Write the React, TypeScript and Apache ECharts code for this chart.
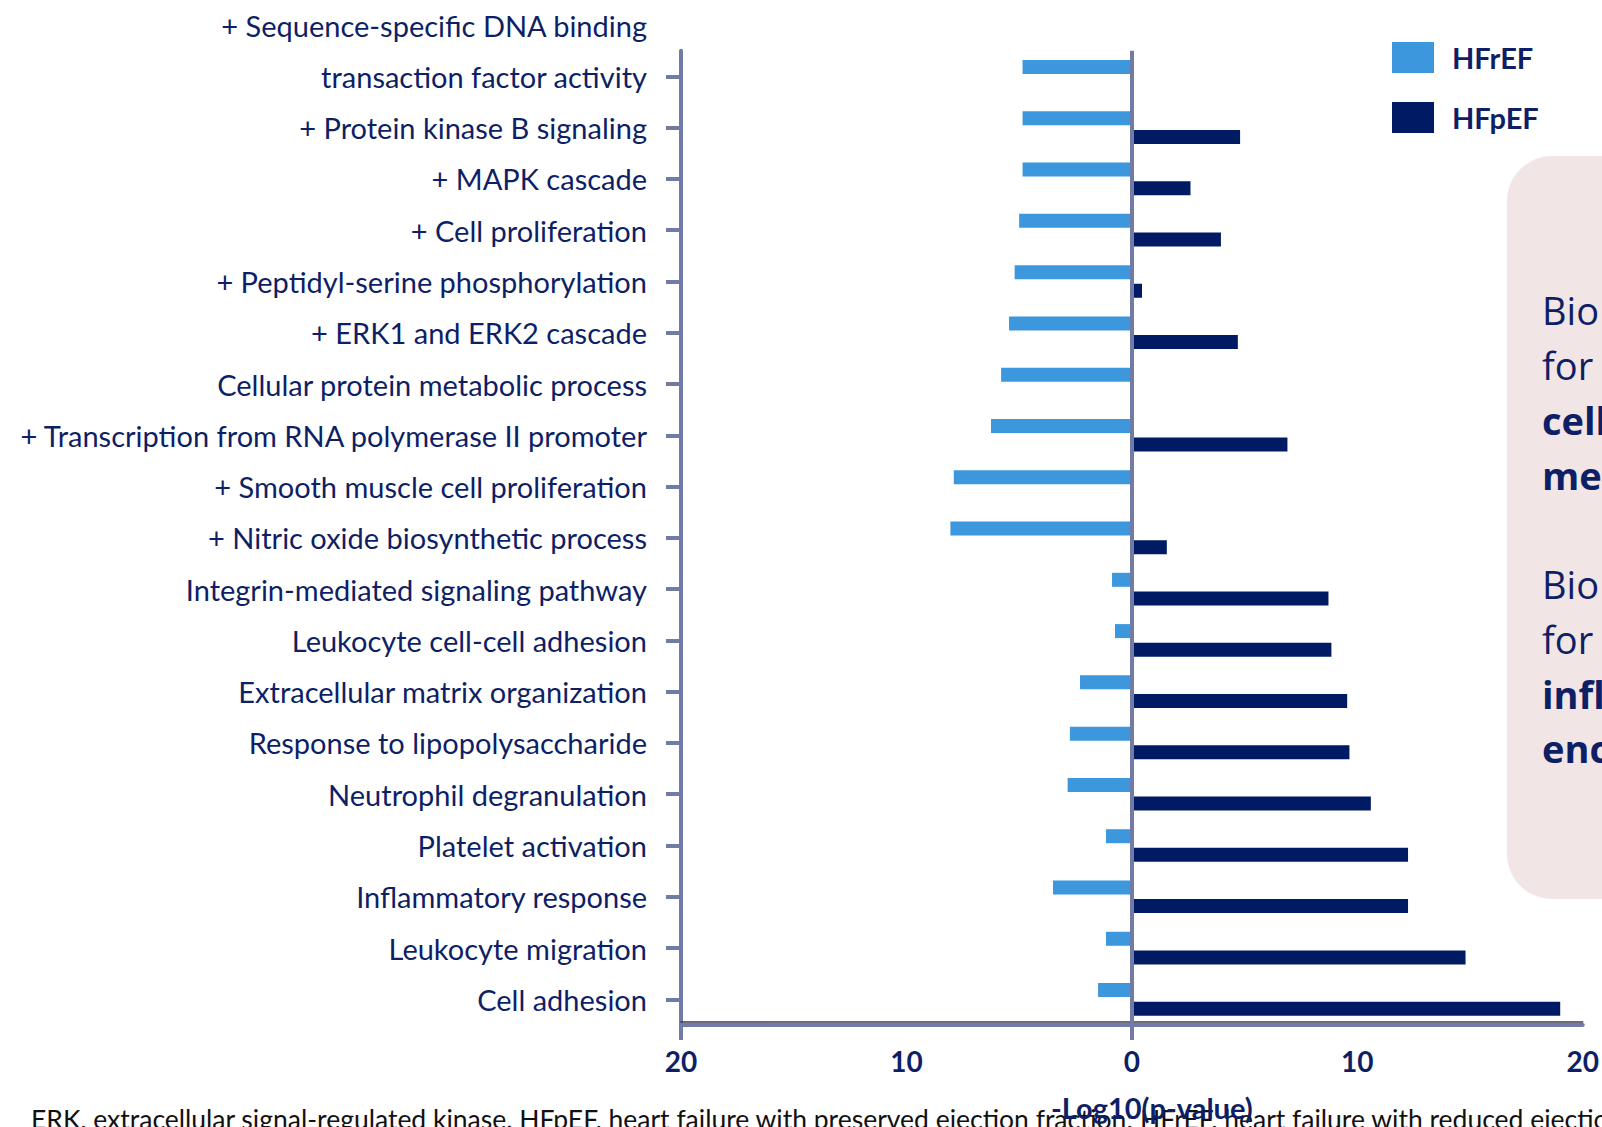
import { useEffect, useRef } from "react";
import * as echarts from "echarts";

// Enriched biological processes, -log10(p-value) per heart-failure phenotype
const categories = [
  "+ Sequence-specific DNA binding\ntransaction factor activity",
  "+ Protein kinase B signaling",
  "+ MAPK cascade",
  "+ Cell proliferation",
  "+ Peptidyl-serine phosphorylation",
  "+ ERK1 and ERK2 cascade",
  "Cellular protein metabolic process",
  "+ Transcription from RNA polymerase II promoter",
  "+ Smooth muscle cell proliferation",
  "+ Nitric oxide biosynthetic process",
  "Integrin-mediated signaling pathway",
  "Leukocyte cell-cell adhesion",
  "Extracellular matrix organization",
  "Response to lipopolysaccharide",
  "Neutrophil degranulation",
  "Platelet activation",
  "Inflammatory response",
  "Leukocyte migration",
  "Cell adhesion",
];

// HFrEF values are plotted to the left of zero
const hfrefLog10P = [4.85, 4.85, 4.85, 5.0, 5.2, 5.45, 5.8, 6.25, 7.9, 8.05, 0.88, 0.75, 2.3, 2.75, 2.85, 1.15, 3.5, 1.15, 1.5];
const hfpefLog10P: (number | null)[] = [null, 4.8, 2.6, 3.95, 0.45, 4.7, null, 6.9, null, 1.55, 8.72, 8.85, 9.55, 9.65, 10.6, 12.25, 12.25, 14.8, 19.0];

const xTickValues = [-20, -10, 0, 10, 20];

const panelLines = [
  { text: "Bio", bold: false },
  { text: "for", bold: false },
  { text: "cell", bold: true },
  { text: "met", bold: true },
  { text: "Bio", bold: false },
  { text: "for", bold: false },
  { text: "infl", bold: true },
  { text: "enc", bold: true },
];
const panelLineY = [310, 365, 420, 475, 584, 639, 694, 748];

const footnote =
  "ERK, extracellular signal-regulated kinase. HFpEF, heart failure with preserved ejection fraction; HFrEF, heart failure with reduced ejection fraction";

const NAVY = "#0E1F66";
const BAR_LIGHT = "#3C97DD";
const BAR_DARK = "#001B63";
const SLATE = "#727BA6";
const PANEL = "#F1E6E5";

export default function App() {
  const ref = useRef<HTMLDivElement>(null);

  useEffect(() => {
    const chart = echarts.init(ref.current!, null, { renderer: "svg" });

    const panelTexts = panelLines.map((l, i) => ({
      type: "text",
      x: 1542,
      y: panelLineY[i],
      z: 5,
      style: {
        text: l.text,
        fill: NAVY,
        font: `${l.bold ? "bold " : ""}38px 'Open Sans'`,
        verticalAlign: "middle",
        align: "left",
      },
    }));

    chart.setOption({
      animation: false,
      backgroundColor: "#ffffff",
      textStyle: { fontFamily: "Lato" },
      grid: { left: 681, right: 13, top: 46, bottom: 100, containLabel: false },
      legend: {
        orient: "vertical",
        left: 1387,
        top: 37,
        itemWidth: 42,
        itemHeight: 31,
        itemGap: 29,
        icon: "rect",
        selectedMode: false,
        data: ["HFrEF", "HFpEF"],
        textStyle: {
          color: NAVY,
          fontWeight: "bold",
          fontSize: 29,
          fontFamily: "Lato",
          padding: [0, 0, 0, 13],
        },
      },
      xAxis: [
        {
          type: "value",
          min: xTickValues[0],
          max: xTickValues[xTickValues.length - 1],
          interval: 10,
          axisLine: { show: true, onZero: false, lineStyle: { color: SLATE, width: 4 } },
          axisTick: {
            show: true,
            customValues: [-20, 0],
            length: 15,
            lineStyle: { color: SLATE, width: 4 },
          },
          splitLine: { show: false },
          axisLabel: {
            formatter: (v: number) => String(Math.abs(v)),
            color: NAVY,
            fontWeight: "bold",
            fontSize: 28,
            fontFamily: "Lato",
            margin: 22,
          },
          name: "-Log10(p-value)",
          nameLocation: "middle",
          nameGap: 68,
          nameTextStyle: {
            color: NAVY,
            fontWeight: "bold",
            fontSize: 29,
            fontFamily: "Lato",
            padding: [0, 0, 0, 40],
          },
          z: 3,
        },
        {
          type: "value",
          min: -20,
          max: 20,
          position: "bottom",
          offset: -3,
          axisLine: { show: true, onZero: false, lineStyle: { color: "#3a3d4a", width: 1.5 } },
          axisTick: { show: false },
          axisLabel: { show: false },
          splitLine: { show: false },
        },
      ],
      yAxis: {
        type: "category",
        data: categories,
        inverse: true,
        axisLine: { show: true, onZero: false, lineStyle: { color: SLATE, width: 4 } },
        axisTick: {
          show: true,
          alignWithLabel: true,
          length: 15,
          lineStyle: { color: SLATE, width: 4 },
        },
        axisLabel: {
          interval: 0,
          margin: 34,
          color: NAVY,
          fontSize: 29,
          fontFamily: "Lato",
          lineHeight: 51,
          formatter: (v: string) => (v.includes("\n") ? v + "\n " : v),
        },
        splitLine: { show: false },
      },
      series: [
        {
          name: "HFrEF",
          type: "bar",
          data: hfrefLog10P.map((v) => -v),
          barWidth: 14,
          barGap: "33%",
          itemStyle: { color: BAR_LIGHT },
          markLine: {
            silent: true,
            symbol: "none",
            label: { show: false },
            lineStyle: { color: SLATE, width: 4, type: "solid" },
            data: [{ xAxis: 0 }],
          },
        },
        {
          name: "HFpEF",
          type: "bar",
          data: hfpefLog10P,
          barWidth: 14,
          barGap: "33%",
          itemStyle: { color: BAR_DARK },
        },
      ],
      graphic: [
        {
          type: "rect",
          x: 1507,
          y: 156,
          z: 1,
          shape: { x: 0, y: 0, width: 200, height: 743, r: 45 },
          style: { fill: PANEL },
        },
        ...panelTexts,
        {
          type: "text",
          x: 31,
          y: 1119,
          z: -1,
          style: {
            text: footnote,
            fill: "#111111",
            font: "26.5px Lato",
            verticalAlign: "middle",
            align: "left",
          },
        },
      ],
    });

    return () => chart.dispose();
  }, []);

  return (
    <div
      ref={ref}
      style={{ position: "fixed", left: 0, top: 0, width: 1602, height: 1127, background: "#ffffff" }}
    />
  );
}
